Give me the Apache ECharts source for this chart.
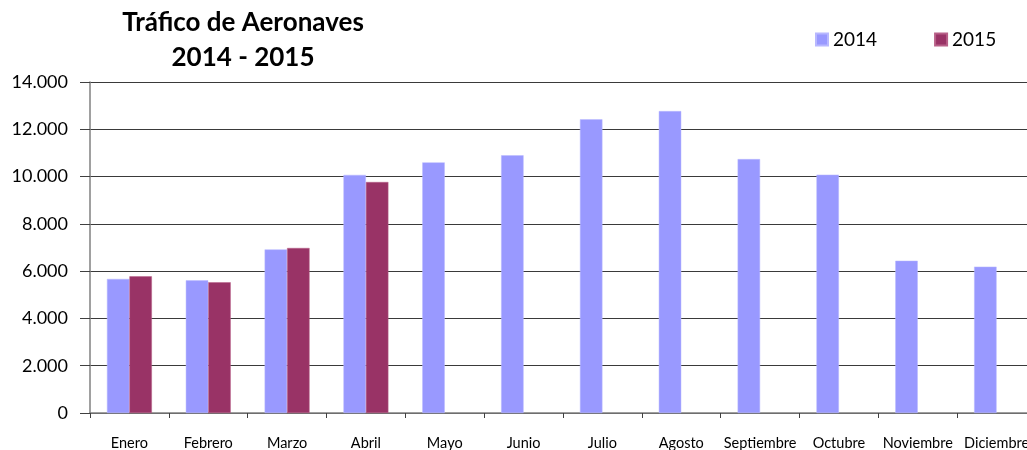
<!DOCTYPE html>
<html><head><meta charset="utf-8">
<script src="https://cdn.jsdelivr.net/npm/echarts@6/dist/echarts.min.js"></script>
<style>html,body{margin:0;padding:0;background:#fff}#c{width:1027px;height:450px}</style>
</head><body><div id="c"></div>
<script>
const categories = ['Enero','Febrero','Marzo','Abril','Mayo','Junio','Julio','Agosto','Septiembre','Octubre','Noviembre','Diciembre'];
const values2014 = [5670, 5610, 6920, 10070, 10600, 10900, 12420, 12770, 10740, 10080, 6440, 6190];
const values2015 = [5780, 5530, 6980, 9770, null, null, null, null, null, null, null, null];
const yTicks = [0, 2000, 4000, 6000, 8000, 10000, 12000, 14000];

const fmt = v => String(v).replace(/\B(?=(\d{3})+(?!\d))/g, '.');
const F = 'Lato, "Open Sans", sans-serif';
const chart = echarts.init(document.getElementById('c'));
chart.setOption({
  animation: false,
  title: {
    text: 'Tráfico de Aeronaves\n2014 - 2015',
    left: 238, top: 0, textAlign: 'center',
    textStyle: {fontFamily: F, fontSize: 26, fontWeight: 'bold', color: '#000', lineHeight: 35}
  },
  legend: {
    left: 810, top: 25, itemWidth: 12, itemHeight: 12, itemGap: 57,
    icon: 'rect',
    textStyle: {fontFamily: F, fontSize: 19, color: '#000', padding: [0,0,0,0]},
    data: ['2014', '2015']
  },
  grid: {left: 90, width: 946, top: 82, height: 331, containLabel: false, outerBoundsMode: 'none'},
  xAxis: {
    type: 'category', data: categories,
    axisLine: {lineStyle: {color: '#808080', width: 1.5}},
    axisTick: {show: true, interval: 0, length: 5, lineStyle: {color: '#404040'}},
    axisLabel: {interval: 0, margin: 23, fontFamily: F, fontSize: 14.5, color: '#000'}
  },
  yAxis: {
    type: 'value', min: yTicks[0], max: yTicks[yTicks.length-1], interval: 2000,
    axisLine: {show: true, lineStyle: {color: '#808080', width: 1.5}},
    axisTick: {show: true, length: 10, lineStyle: {color: '#404040'}},
    axisLabel: {margin: 22, fontFamily: F, fontSize: 18, color: '#000', formatter: v => fmt(v)},
    splitLine: {show: true, lineStyle: {color: '#3a3a3a', width: 1}}
  },
  series: [
    {name: '2014', type: 'bar', data: values2014, barGap: 0, barCategoryGap: '43%',
     itemStyle: {color: '#9999FF', borderColor: '#B8B8FF', borderWidth: 0.5}},
    {name: '2015', type: 'bar', data: values2015, barGap: 0, barCategoryGap: '43%',
     itemStyle: {color: '#993366', borderColor: '#B86088', borderWidth: 0.5}}
  ]
});
</script></body></html>
